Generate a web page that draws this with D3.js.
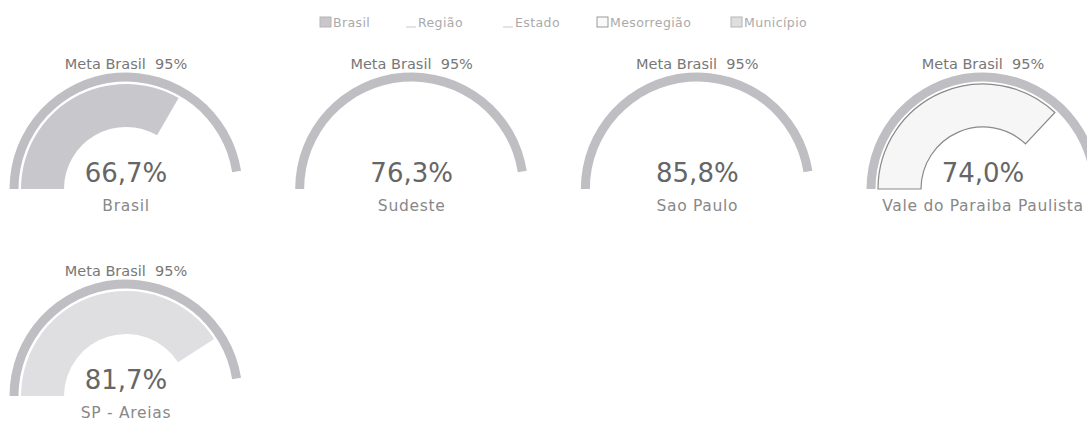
<!DOCTYPE html>
<html>
<head>
<meta charset="utf-8">
<script src="https://cdn.jsdelivr.net/npm/d3@7"></script>
<style>
  body { margin: 0; background: #fff; }
  text { font-family: "DejaVu Sans", sans-serif; }
</style>
</head>
<body>
<div id="container"></div>
<script>
var levels = ["Brasil", "Região", "Estado", "Mesorregião", "Município"],
    labels = ["Brasil", "Sudeste", "Sao Paulo", "Vale do Paraiba Paulista", "SP - Areias"],
    values = [66.7, 76.3, 85.8, 74.0, 81.7],
    meta = 95,
    metaLabel = "Meta Brasil  95%";

var width = 1087, height = 423;

// one fill per level, same order as levels
var fills = ["#c8c8cc", "#ffffff", "#ffffff", "#f6f6f6", "#dfdfe1"],
    strokes = ["none", "none", "none", "#8a8a8a", "none"];

var svg = d3.select("#container").append("svg")
    .attr("id", "chart")
    .attr("width", width)
    .attr("height", height);

// legend
var legendX = [320, 405, 502, 597, 731];
var legend = svg.append("g").attr("class", "legend");
levels.forEach(function(l, i) {
    var g = legend.append("g").attr("transform", "translate(" + legendX[i] + ",17)");
    if (i == 1 || i == 2) {
        g.append("line").attr("x1", 1).attr("x2", 11).attr("y1", 10).attr("y2", 10)
            .attr("stroke", "#c8c8c8").attr("stroke-width", 1);
    } else {
        g.append("rect").attr("width", 11).attr("height", 10)
            .attr("fill", i == 3 ? "#fafafa" : fills[i])
            .attr("stroke", i == 3 ? "#999" : "#b5b5b5").attr("stroke-width", 1);
    }
    g.append("text").attr("x", 13).attr("y", 9.5)
        .attr("font-size", 12.5).attr("fill", "#aaa").attr("letter-spacing", 0.4)
        .text(l);
});

var angle = d3.scaleLinear().domain([0, 100]).range([-Math.PI / 2, Math.PI / 2]);
var col = d3.scaleLinear().domain([0, 3]).range([126, 983]);

var goalArc = d3.arc().innerRadius(107.5).outerRadius(116.5)
    .startAngle(angle(0)).endAngle(angle(meta));
var valueArc = d3.arc().innerRadius(62).outerRadius(105)
    .startAngle(angle(0)).endAngle(function(d) { return angle(d); });

labels.forEach(function(name, i) {
    var cx = col(i % 4), cy = 189 + 207 * Math.floor(i / 4);
    var g = svg.append("g").attr("transform", "translate(" + cx + "," + cy + ")");

    g.append("text").attr("y", -120).attr("text-anchor", "middle")
        .attr("font-size", 14.5).attr("fill", "#777")
        .attr("xml:space", "preserve").style("white-space", "pre")
        .text(metaLabel);

    g.append("path").attr("d", goalArc()).attr("fill", "#bfbfc3");

    g.append("path").datum(values[i]).attr("d", valueArc)
        .attr("fill", fills[i]).attr("stroke", strokes[i]).attr("stroke-width", 1.2);

    g.append("text").attr("y", -7).attr("text-anchor", "middle")
        .attr("font-size", 26).attr("fill", "#666")
        .text(d3.format(".1f")(values[i]).replace(".", ",") + "%");

    g.append("text").attr("y", 22).attr("text-anchor", "middle")
        .attr("font-size", 15.5).attr("fill", "#888").attr("letter-spacing", 0.7)
        .text(name);
});
</script>
</body>
</html>
